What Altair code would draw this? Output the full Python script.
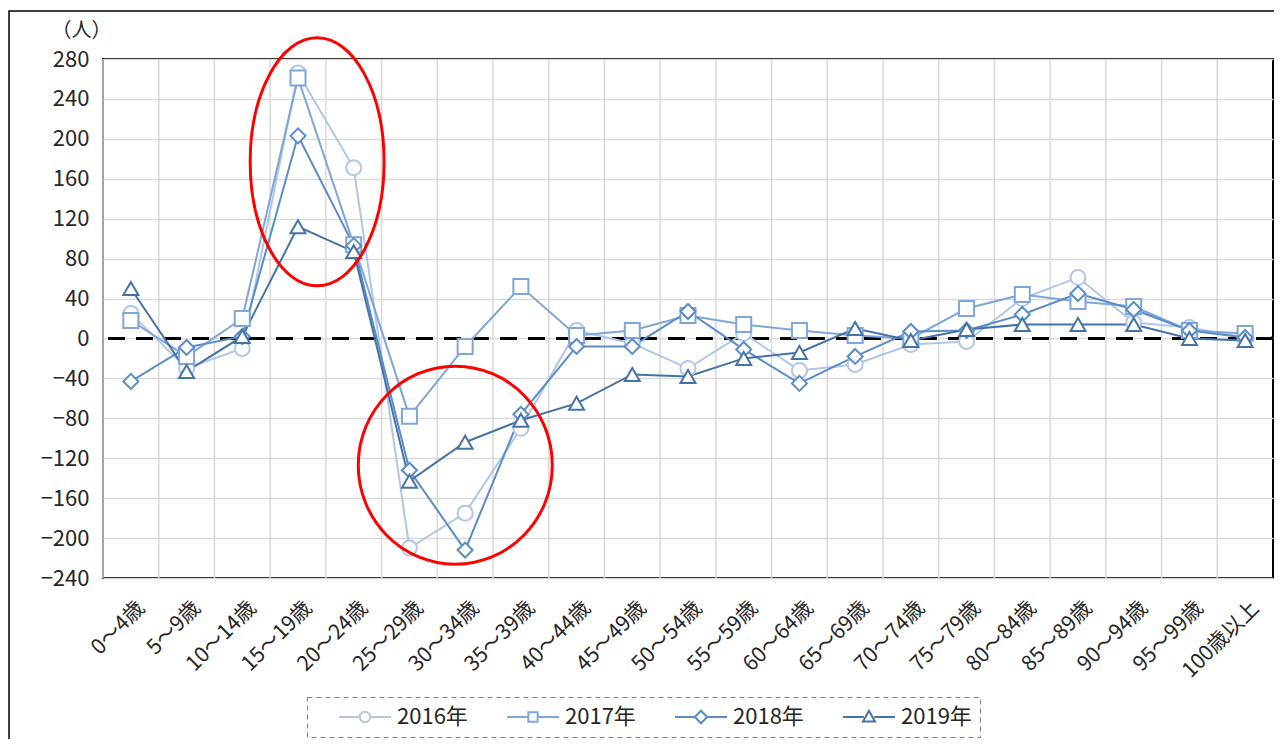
import altair as alt
import pandas as pd

# ---------------- data ----------------
ages = ["0～4歳", "5～9歳", "10～14歳", "15～19歳", "20～24歳", "25～29歳", "30～34歳",
        "35～39歳", "40～44歳", "45～49歳", "50～54歳", "55～59歳", "60～64歳", "65～69歳",
        "70～74歳", "75～79歳", "80～84歳", "85～89歳", "90～94歳", "95～99歳", "100歳以上"]
years = ["2016年", "2017年", "2018年", "2019年"]
v2016 = [25, -30, -10, 266, 171, -210, -175, -90, 8, -5, -30, 5, -32, -26, -6, -3, 40, 61, 16, 11, 1]
v2017 = [18, -18, 20, 261, 94, -78, -8, 52, 3, 8, 23, 14, 8, 3, 0, 30, 44, 37, 32, 8, 5]
v2018 = [-43, -9, 2, 203, 93, -132, -212, -76, -8, -8, 27, -11, -45, -18, 7, 8, 24, 45, 29, 8, 1]
v2019 = [50, -33, 2, 112, 87, -143, -104, -82, -65, -36, -38, -20, -14, 10, -2, 9, 14, 14, 14, 0, -2]
y_ticks = [-240, -200, -160, -120, -80, -40, 0, 40, 80, 120, 160, 200, 240, 280]
title_text = "図表2-21　年齢5歳階級別の人口移動の推移"

series = {"2016年": v2016, "2017年": v2017, "2018年": v2018, "2019年": v2019}
rows = []
for yr in years:
    for a, v in zip(ages, series[yr]):
        rows.append({"age": a, "year": yr, "value": v})
df = pd.DataFrame(rows)
df_age = pd.DataFrame({"age": ages})

# ---------------- style ----------------
FONT = "Noto Sans CJK JP"
colors = ["#b0c6e6", "#7ea6d8", "#5a8dc8", "#4673a6"]
shapes = ["circle", "square", "diamond", "triangle-up"]
W, H = 1170, 519


def circ(cx, cy, r):
    k = 0.5523 * r
    return (f"M{cx + r},{cy}C{cx + r},{cy + k} {cx + k},{cy + r} {cx},{cy + r}"
            f"C{cx - k},{cy + r} {cx - r},{cy + k} {cx - r},{cy}"
            f"C{cx - r},{cy - k} {cx - k},{cy - r} {cx},{cy - r}"
            f"C{cx + k},{cy - r} {cx + r},{cy - k} {cx + r},{cy}Z")


def ellipse(rx, ry):
    kx, ky = 0.5523 * rx, 0.5523 * ry
    return (f"M{rx},0C{rx},{ky} {kx},{ry} 0,{ry}C{-kx},{ry} {-rx},{ky} {-rx},0"
            f"C{-rx},{-ky} {-kx},{-ry} 0,{-ry}C{kx},{-ry} {rx},{-ky} {rx},0Z")


leg_shapes = [
    "M-1,0L-0.2,0M0.2,0L1,0" + circ(0, 0, 0.2),
    "M-1,0L-0.18,0M0.18,0L1,0M-0.18,-0.18L0.18,-0.18L0.18,0.18L-0.18,0.18Z",
    "M-1,0L-0.24,0M0.24,0L1,0M0,-0.24L0.24,0L0,0.24L-0.24,0Z",
    "M-1,0L-0.2,0M0.2,0L1,0M0,-0.24L0.23,0.17L-0.23,0.17Z",
]

xscale = alt.Scale(type="band", paddingInner=0, paddingOuter=0, domain=ages)
xaxis = alt.Axis(title=None, labelAngle=-45, labelAlign="right", labelBaseline="top",
                 labelPadding=19, labelOffset=3, ticks=False, domain=False, grid=False,
                 labelFontSize=21, labelFont=FONT, labelColor="#262626", bandPosition=0.5)
yscale = alt.Scale(domain=[-240, 280], nice=False, zero=False)
yaxis = alt.Axis(values=y_ticks, title="（人）", titleAngle=0, titleX=-22, titleY=-29,
                 titleAlign="center", titleBaseline="middle", titleFontWeight="normal",
                 titleFontSize=20, titleFont=FONT, titleColor="#262626",
                 labelFontSize=22, labelFont=FONT, labelColor="#262626", labelPadding=14,
                 ticks=False, domain=False, grid=True, gridColor="#d9d9d9", gridWidth=1.5)

color_s = alt.Color("year:N", scale=alt.Scale(domain=years, range=colors), legend=None)

base = alt.Chart(df)

# vertical grid lines at band edges
vgrid = alt.Chart(df_age).mark_rule(color="#d9d9d9", strokeWidth=1.5).encode(
    x=alt.X("age:N", scale=xscale, axis=xaxis, bandPosition=0, sort=ages)
)

zero = alt.Chart(df_age).mark_rule(color="black", strokeWidth=3, strokeDash=[17, 11]).encode(
    y=alt.datum(0, scale=yscale, axis=yaxis)
)

lines = base.mark_line(strokeWidth=2).encode(
    x=alt.X("age:N", scale=xscale, axis=xaxis, bandPosition=0.5, sort=ages),
    y=alt.Y("value:Q", scale=yscale, axis=yaxis),
    color=color_s,
    detail="year:N",
)

points = base.mark_point(filled=False, fill="white", strokeWidth=2, size=225, opacity=1).encode(
    x=alt.X("age:N", scale=xscale, axis=xaxis, bandPosition=0.5, sort=ages),
    y=alt.Y("value:Q", scale=yscale, axis=yaxis),
    color=color_s,
    shape=alt.Shape("year:N", scale=alt.Scale(domain=years, range=shapes), legend=None),
)

legend_layer = base.transform_filter("false").mark_point(
    filled=False, fill="white", strokeWidth=2, opacity=1
).encode(
    x=alt.X("age:N", scale=xscale, axis=xaxis, bandPosition=0.5, sort=ages),
    y=alt.Y("value:Q", scale=yscale, axis=yaxis),
    color=alt.Color("year:N", scale=alt.Scale(domain=years, range=colors),
                    legend=alt.Legend(title=None, orient="none", legendX=204, legendY=638,
                                      direction="horizontal", columns=4,
                                      symbolSize=2704, clipHeight=24, symbolOffset=23,
                                      labelOffset=5, columnPadding=15, padding=8,
                                      symbolStrokeWidth=2, symbolFillColor="white",
                                      labelFontSize=22, labelFont=FONT, labelColor="#262626",
                                      strokeColor="#808080")),
    shape=alt.Shape("year:N", scale=alt.Scale(domain=years, range=leg_shapes)),
)

ell1 = alt.Chart(df_age).transform_filter(alt.datum.age == "15～19歳").mark_point(
    shape=ellipse(0.54, 1), size=61504, filled=False, stroke="#ff0000", strokeWidth=3, opacity=1
).encode(
    x=alt.X("age:N", scale=xscale, axis=xaxis, sort=ages),
    y=alt.datum(177, scale=yscale, axis=yaxis),
    xOffset=alt.value(47),
)

ell2 = alt.Chart(df_age).transform_filter(alt.datum.age == "30～34歳").mark_point(
    shape=ellipse(0.98, 1), size=39204, filled=False, stroke="#ff0000", strokeWidth=3, opacity=1
).encode(
    x=alt.X("age:N", scale=xscale, axis=xaxis, sort=ages),
    y=alt.datum(-127, scale=yscale, axis=yaxis),
    xOffset=alt.value(18),
)

frame = alt.Chart(df_age.head(1)).mark_rect(fill=None, stroke="black", strokeWidth=1.5).encode(
    x=alt.value(-94), x2=alt.value(W + 60), y=alt.value(-48), y2=alt.value(H + 400)
)

title = alt.Chart(df_age.head(1)).mark_text(
    text=title_text, font=FONT, fontSize=22, fontWeight="bold", baseline="bottom", align="center"
).encode(x=alt.value(547), y=alt.value(-49))

chart = alt.layer(
    frame, vgrid, zero, lines, points, legend_layer, ell1, ell2, title
).resolve_scale(
    color="independent", shape="independent"
).properties(
    width=W, height=H,
    padding={"left": 95, "top": 51, "right": 1, "bottom": 161},
    autosize=alt.AutoSizeParams(type="none"),
).configure_view(
    stroke="black", strokeWidth=2
).configure_legend(
    strokeDash=[5, 4]
)

chart.save("out.html", embed_options={"renderer": "svg", "actions": False})
